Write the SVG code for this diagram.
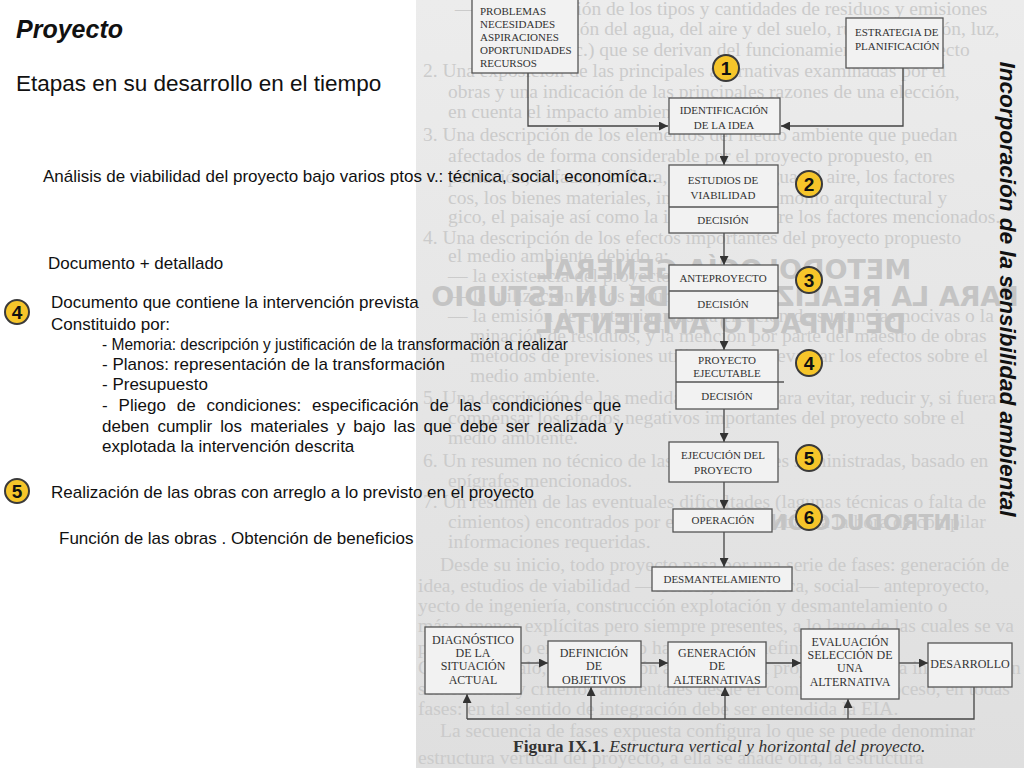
<svg xmlns="http://www.w3.org/2000/svg" width="1024" height="768" viewBox="0 0 1024 768">
<defs>
<linearGradient id="page" x1="0" y1="0" x2="0" y2="1">
<stop offset="0" stop-color="#ececec"/>
<stop offset="1" stop-color="#dfdfdf"/>
</linearGradient>
<clipPath id="pc"><rect x="416" y="0" width="608" height="768"/></clipPath>
<marker id="ah" viewBox="0 0 10 10" refX="10" refY="5" markerWidth="9" markerHeight="9" markerUnits="userSpaceOnUse" orient="auto">
<path d="M0,0 L10,5 L0,10 z" fill="#333"/>
</marker>
<style>
.bg{font-family:"Liberation Serif",serif;font-size:19.5px;fill:#cbcbcb}
.mir{font-family:"DejaVu Sans",sans-serif;font-weight:bold;font-size:27px;fill:#c4c4c4}
.box{fill:#f2f2f2;stroke:#555;stroke-width:1.3}
.bt{font-family:"Liberation Serif",serif;font-size:11px;fill:#333;text-anchor:middle}
.bl{font-family:"Liberation Serif",serif;font-size:11px;fill:#333}
.bt2{font-family:"Liberation Serif",serif;font-size:12px;fill:#333;text-anchor:middle}
.cn{fill:none;stroke:#444;stroke-width:1.3}
.ca{fill:none;stroke:#444;stroke-width:1.3;marker-end:url(#ah)}
.yc{fill:#f6c52a;stroke:#3a3a3a;stroke-width:2}
.yn{font-family:"Liberation Sans",sans-serif;font-weight:bold;font-size:19px;fill:#111;text-anchor:middle}
.t{font-family:"Liberation Sans",Arial,sans-serif;font-size:17px;fill:#111}
</style>
</defs>
<rect width="1024" height="768" fill="#ffffff"/>
<rect x="416" y="0" width="608" height="768" fill="url(#page)"/>

<g id="page-text" clip-path="url(#pc)">
<text class="bg" x="455" y="15">— Una estimación de los tipos y cantidades de residuos y emisiones</text>
<text class="bg" x="478" y="35">(contaminación del agua, del aire y del suelo, ruido, vibración, luz,</text>
<text class="bg" x="478" y="56">radiación, etc.) que se derivan del funcionamiento del proyecto</text>
<text class="bg" x="423" y="77">2. Una exposición de las principales alternativas examinadas por el</text>
<text class="bg" x="448" y="98">obras y una indicación de las principales razones de una elección,</text>
<text class="bg" x="448" y="118">en cuenta el impacto ambiental.</text>
<text class="bg" x="423" y="141">3. Una descripción de los elementos del medio ambiente que puedan</text>
<text class="bg" x="448" y="162">afectados de forma considerable por el proyecto propuesto, en</text>
<text class="bg" x="448" y="183">población, la fauna, la flora, el suelo, el agua, el aire, los factores</text>
<text class="bg" x="448" y="204">cos, los bienes materiales, incluido el patrimonio arquitectural y</text>
<text class="bg" x="448" y="223">gico, el paisaje así como la interacción entre los factores mencionados.</text>
<text class="bg" x="423" y="244">4. Una descripción de los efectos importantes del proyecto propuesto</text>
<text class="bg" x="448" y="262">el medio ambiente debido a:</text>
<text class="bg" x="448" y="282">— la existencia del proyecto,</text>
<text class="bg" x="448" y="302">— la utilización de los recursos naturales,</text>
<text class="bg" x="448" y="322">— la emisión de contaminantes, la creación de sustancias nocivas o la</text>
<text class="bg" x="470" y="342">minación de residuos, y la mención por parte del maestro de obras</text>
<text class="bg" x="470" y="362">métodos de previsiones utilizados para evaluar los efectos sobre el</text>
<text class="bg" x="470" y="382">medio ambiente.</text>
<text class="bg" x="423" y="404">5. Una descripción de las medidas previstas para evitar, reducir y, si fuera</text>
<text class="bg" x="448" y="424">compensar los efectos negativos importantes del proyecto sobre el</text>
<text class="bg" x="448" y="444">medio ambiente.</text>
<text class="bg" x="423" y="467">6. Un resumen no técnico de las informaciones suministradas, basado en</text>
<text class="bg" x="448" y="487">epígrafes mencionados.</text>
<text class="bg" x="423" y="508">7. Un resumen de las eventuales dificultades (lagunas técnicas o falta de</text>
<text class="bg" x="448" y="528">cimientos) encontrados por el maestro de obras a la hora de compilar</text>
<text class="bg" x="448" y="548">informaciones requeridas.</text>
<text class="bg" x="440" y="571">Desde su inicio, todo proyecto pasa por una serie de fases: generación de</text>
<text class="bg" x="418" y="592">idea, estudios de viabilidad —técnica, económica, social— anteproyecto,</text>
<text class="bg" x="418" y="612">yecto de ingeniería, construcción explotación y desmantelamiento o</text>
<text class="bg" x="418" y="632">más o menos explícitas pero siempre presentes, a lo largo de las cuales se va</text>
<text class="bg" x="418" y="654">profundizando en el proyecto hasta su total definición en el</text>
<text class="bg" x="418" y="674">Como se señaló, la integración ambiental del proyecto exige la incorporación</text>
<text class="bg" x="418" y="695">sensibilidad y criterios ambientales desde el comienzo del proceso, en todas</text>
<text class="bg" x="418" y="715">fases: en tal sentido de integración debe ser entendida la EIA.</text>
<text class="bg" x="440" y="737">La secuencia de fases expuesta configura lo que se puede denominar</text>
<text class="bg" x="418" y="764">estructura vertical del proyecto, a ella se añade otra, la estructura</text>
<g transform="translate(1450,0) scale(-1,1)">
<text class="mir" x="726" y="279" text-anchor="middle">METODOLOGÍA GENERAL</text>
<text class="mir" x="725" y="306" text-anchor="middle">PARA LA REALIZACIÓN DE UN ESTUDIO</text>
<text class="mir" x="729" y="333" text-anchor="middle">DE IMPACTO AMBIENTAL</text>
<text class="mir" x="490" y="530" style="font-size:22px">INTRODUCCIÓN</text>
</g>
</g>

<g id="connectors">
<polyline class="ca" points="528,73 528,126 668,126"/>
<polyline class="ca" points="903,68 903,126 781,126"/>
<line class="ca" x1="724" y1="134" x2="724" y2="165"/>
<line class="ca" x1="724" y1="233" x2="724" y2="265"/>
<line class="ca" x1="724" y1="318" x2="724" y2="350"/>
<line class="ca" x1="724" y1="409" x2="724" y2="442"/>
<line class="ca" x1="724" y1="482" x2="724" y2="509"/>
<line class="ca" x1="724" y1="532" x2="724" y2="567"/>
<line class="ca" x1="521" y1="663" x2="548" y2="663"/>
<line class="ca" x1="641" y1="663" x2="668" y2="663"/>
<line class="ca" x1="766" y1="663" x2="801" y2="663"/>
<line class="ca" x1="899" y1="663" x2="928" y2="663"/>
<polyline class="cn" points="974,687 974,719 467,719"/>
<line class="ca" x1="467" y1="719" x2="467" y2="694"/>
<line class="ca" x1="591" y1="719" x2="591" y2="687"/>
<line class="ca" x1="725" y1="719" x2="725" y2="687"/>
<line class="ca" x1="848" y1="719" x2="848" y2="699"/>
</g>

<g id="n-problemas">
<rect class="box" x="472" y="-2" width="106" height="75"/>
<text class="bl" x="480" y="15">PROBLEMAS</text>
<text class="bl" x="480" y="28">NECESIDADES</text>
<text class="bl" x="480" y="41">ASPIRACIONES</text>
<text class="bl" x="480" y="54">OPORTUNIDADES</text>
<text class="bl" x="480" y="67">RECURSOS</text>
</g>
<g id="n-estrategia">
<rect class="box" x="846" y="18" width="97" height="50"/>
<text class="bl" x="855" y="36">ESTRATEGIA DE</text>
<text class="bl" x="855" y="50">PLANIFICACIÓN</text>
</g>
<g id="n-identificacion">
<rect class="box" x="669" y="98" width="111" height="36"/>
<text class="bt" x="724" y="114">IDENTIFICACIÓN</text>
<text class="bt" x="724" y="129">DE LA IDEA</text>
</g>
<g id="n-estudios">
<rect class="box" x="669" y="165" width="109" height="68"/>
<line x1="669" y1="207" x2="778" y2="207" stroke="#555" stroke-width="1.3"/>
<text class="bt" x="723" y="184">ESTUDIOS DE</text>
<text class="bt" x="723" y="199">VIABILIDAD</text>
<text class="bt" x="723" y="224">DECISIÓN</text>
</g>
<g id="n-anteproyecto">
<rect class="box" x="669" y="265" width="109" height="53"/>
<line x1="669" y1="291" x2="778" y2="291" stroke="#555" stroke-width="1.3"/>
<text class="bt" x="723" y="282">ANTEPROYECTO</text>
<text class="bt" x="723" y="308">DECISIÓN</text>
</g>
<g id="n-ejecutable">
<rect class="box" x="676" y="350" width="102" height="59"/>
<line x1="676" y1="382" x2="784" y2="382" stroke="#555" stroke-width="1.3"/>
<text class="bt" x="727" y="364">PROYECTO</text>
<text class="bt" x="727" y="377">EJECUTABLE</text>
<text class="bt" x="727" y="400">DECISIÓN</text>
</g>
<g id="n-ejecucion">
<rect class="box" x="669" y="442" width="109" height="40"/>
<text class="bt" x="723" y="459">EJECUCIÓN DEL</text>
<text class="bt" x="723" y="474">PROYECTO</text>
</g>
<g id="n-operacion">
<rect class="box" x="673" y="509" width="99" height="23"/>
<text class="bt" x="723" y="524">OPERACIÓN</text>
</g>
<g id="n-desmantelamiento">
<rect class="box" x="652" y="567" width="140" height="24"/>
<text class="bt" x="722" y="583">DESMANTELAMIENTO</text>
</g>

<g id="n-diagnostico">
<rect class="box" x="425" y="627" width="96" height="67"/>
<text class="bt2" x="473" y="644">DIAGNÓSTICO</text>
<text class="bt2" x="473" y="657">DE LA</text>
<text class="bt2" x="473" y="670">SITUACIÓN</text>
<text class="bt2" x="473" y="684">ACTUAL</text>
</g>
<g id="n-definicion">
<rect class="box" x="548" y="641" width="93" height="46"/>
<text class="bt2" x="594" y="657">DEFINICIÓN</text>
<text class="bt2" x="594" y="670">DE</text>
<text class="bt2" x="594" y="684">OBJETIVOS</text>
</g>
<g id="n-generacion">
<rect class="box" x="668" y="642" width="98" height="45"/>
<text class="bt2" x="717" y="657">GENERACIÓN</text>
<text class="bt2" x="717" y="670">DE</text>
<text class="bt2" x="717" y="684">ALTERNATIVAS</text>
</g>
<g id="n-evaluacion">
<rect class="box" x="801" y="629" width="98" height="70"/>
<text class="bt2" x="850" y="646">EVALUACIÓN</text>
<text class="bt2" x="850" y="659">SELECCIÓN DE</text>
<text class="bt2" x="850" y="672">UNA</text>
<text class="bt2" x="850" y="686">ALTERNATIVA</text>
</g>
<g id="n-desarrollo">
<rect class="box" x="928" y="643" width="84" height="44"/>
<text class="bt2" x="970" y="668">DESARROLLO</text>
</g>

<g id="caption">
<text x="513" y="752" style="font-family:'Liberation Serif',serif;font-size:17.5px;fill:#333"><tspan font-weight="bold">Figura IX.1.</tspan><tspan font-style="italic"> Estructura vertical y horizontal del proyecto.</tspan></text>
</g>

<g id="badges">
<circle class="yc" cx="726" cy="68" r="13"/><text class="yn" x="726" y="75">1</text>
<circle class="yc" cx="809" cy="184" r="13"/><text class="yn" x="809" y="191">2</text>
<circle class="yc" cx="809" cy="280" r="13"/><text class="yn" x="809" y="287">3</text>
<circle class="yc" cx="809" cy="363" r="13"/><text class="yn" x="809" y="370">4</text>
<circle class="yc" cx="809" cy="458" r="13"/><text class="yn" x="809" y="465">5</text>
<circle class="yc" cx="809" cy="517" r="13"/><text class="yn" x="809" y="524">6</text>
<circle class="yc" cx="17" cy="312" r="12"/><text class="yn" x="17" y="319">4</text>
<circle class="yc" cx="17" cy="491" r="12"/><text class="yn" x="17" y="498">5</text>
</g>

<g id="vertical-title">
<text transform="translate(1000,289) rotate(90)" text-anchor="middle" style="font-family:'Liberation Sans',sans-serif;font-weight:bold;font-style:italic;font-size:22.5px;fill:#111">Incorporación de la sensibilidad ambiental</text>
</g>

<g id="left-text">
<text x="16" y="38" style="font-family:'Liberation Sans',sans-serif;font-weight:bold;font-style:italic;font-size:25px;fill:#111">Proyecto</text>
<text x="16" y="91" style="font-family:'Liberation Sans',sans-serif;font-size:22.5px;fill:#111">Etapas en su desarrollo en el tiempo</text>
<text class="t" x="43" y="182">Análisis de viabilidad del proyecto bajo varios ptos v.: técnica, social, economíca..</text>
<text class="t" x="48" y="269">Documento + detallado</text>
<text class="t" x="51" y="308">Documento que contiene la intervención prevista</text>
<text class="t" x="51" y="330">Constituido por:</text>
<text class="t" x="102" y="350" textLength="466" lengthAdjust="spacingAndGlyphs">- Memoria: descripción y justificación de la transformación a realizar</text>
<text class="t" x="102" y="370">- Planos: representación de la transformación</text>
<text class="t" x="102" y="390">- Presupuesto</text>
<text class="t" x="102" y="411" style="word-spacing:6.2px">- Pliego de condiciones: especificación de las condiciones que</text>
<text class="t" x="102" y="432" style="word-spacing:3.4px">deben cumplir los materiales y  bajo las que debe ser realizada y</text>
<text class="t" x="102" y="452">explotada la intervención descrita</text>
<text class="t" x="51" y="498">Realización de las obras con arreglo a lo previsto en el proyecto</text>
<text class="t" x="59" y="544">Función de las obras . Obtención de beneficios</text>
</g>
</svg>
